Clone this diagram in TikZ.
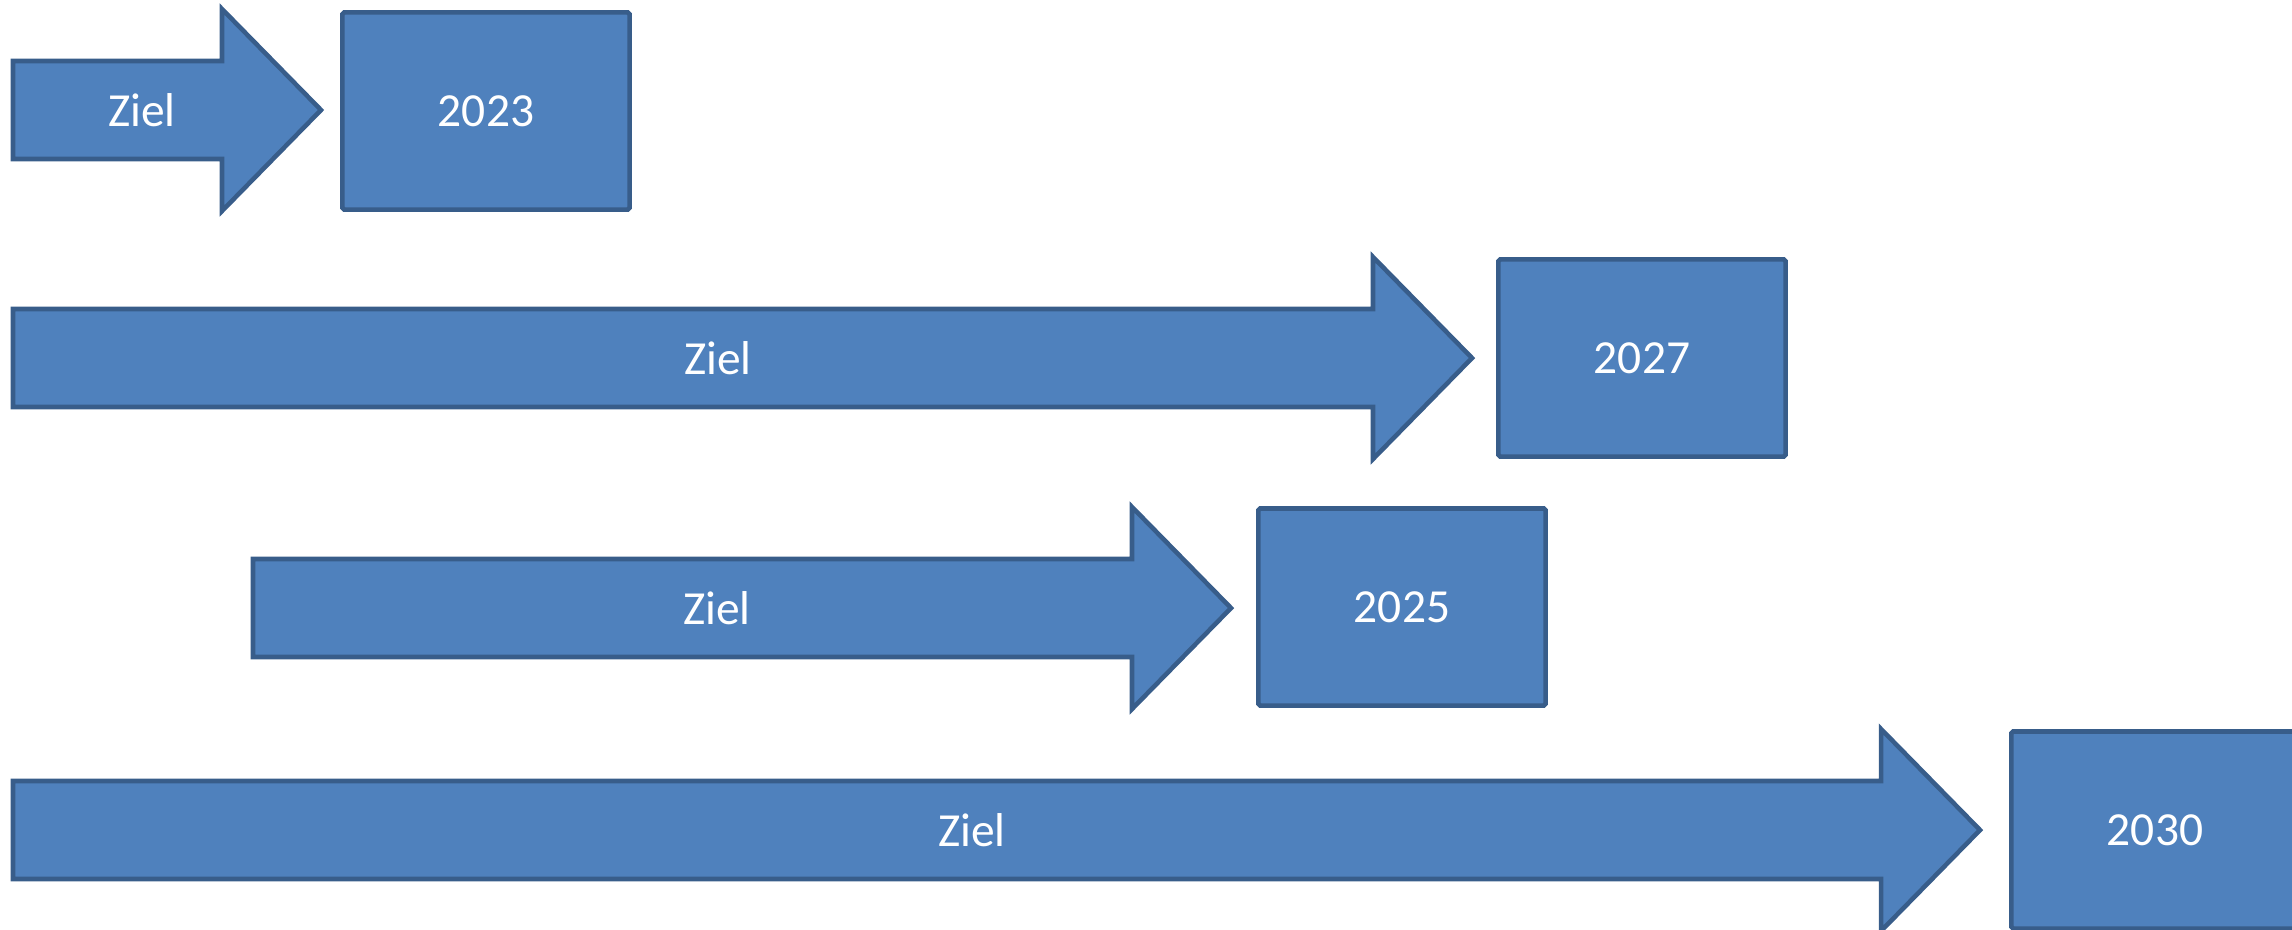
\documentclass[tikz,border=0pt]{standalone}
\usepackage{fontspec}
\setmainfont{Carlito}

\begin{document}
\begin{tikzpicture}[x=0.01cm, y=-0.01cm,
    block/.style={fill=blockfill, draw=blockedge, line width=1.3pt},
    yearbox/.style={block, rounded corners=0.5pt, minimum width=2.87cm,
      minimum height=1.97cm, inner sep=0pt},
    txt/.style={text=white, font=\fontsize{13.5}{16}\selectfont}]
    \definecolor{blockfill}{HTML}{4F81BD}
    \definecolor{blockedge}{HTML}{385D8A}
    \useasboundingbox (0,0) rectangle (2292,929);

    \draw[block] (13,61) -- (222,61) -- (222,9) -- (321,110) -- (222,211) -- (222,159) -- (13,159) -- cycle;
    \draw[block] (13,309) -- (1373,309) -- (1373,257) -- (1472,358) -- (1373,459) -- (1373,407) -- (13,407) -- cycle;
    \draw[block] (253,559) -- (1132,559) -- (1132,507) -- (1231,608) -- (1132,709) -- (1132,657) -- (253,657) -- cycle;
    \draw[block] (13,781) -- (1881,781) -- (1881,729) -- (1980,830) -- (1881,931) -- (1881,879) -- (13,879) -- cycle;

    \node[txt] (ziel1) at (142,110) {Ziel};
    \node[txt] (ziel2) at (718,358) {Ziel};
    \node[txt] (ziel3) at (717,608) {Ziel};
    \node[txt] (ziel4) at (972,830) {Ziel};

    \node[yearbox, txt] (y2023) at (486,111)  {2023};
    \node[yearbox, txt] (y2027) at (1642,358) {2027};
    \node[yearbox, txt] (y2025) at (1402,607) {2025};
    \node[yearbox, txt] (y2030) at (2155,830) {2030};
  \end{tikzpicture}
\end{document}
